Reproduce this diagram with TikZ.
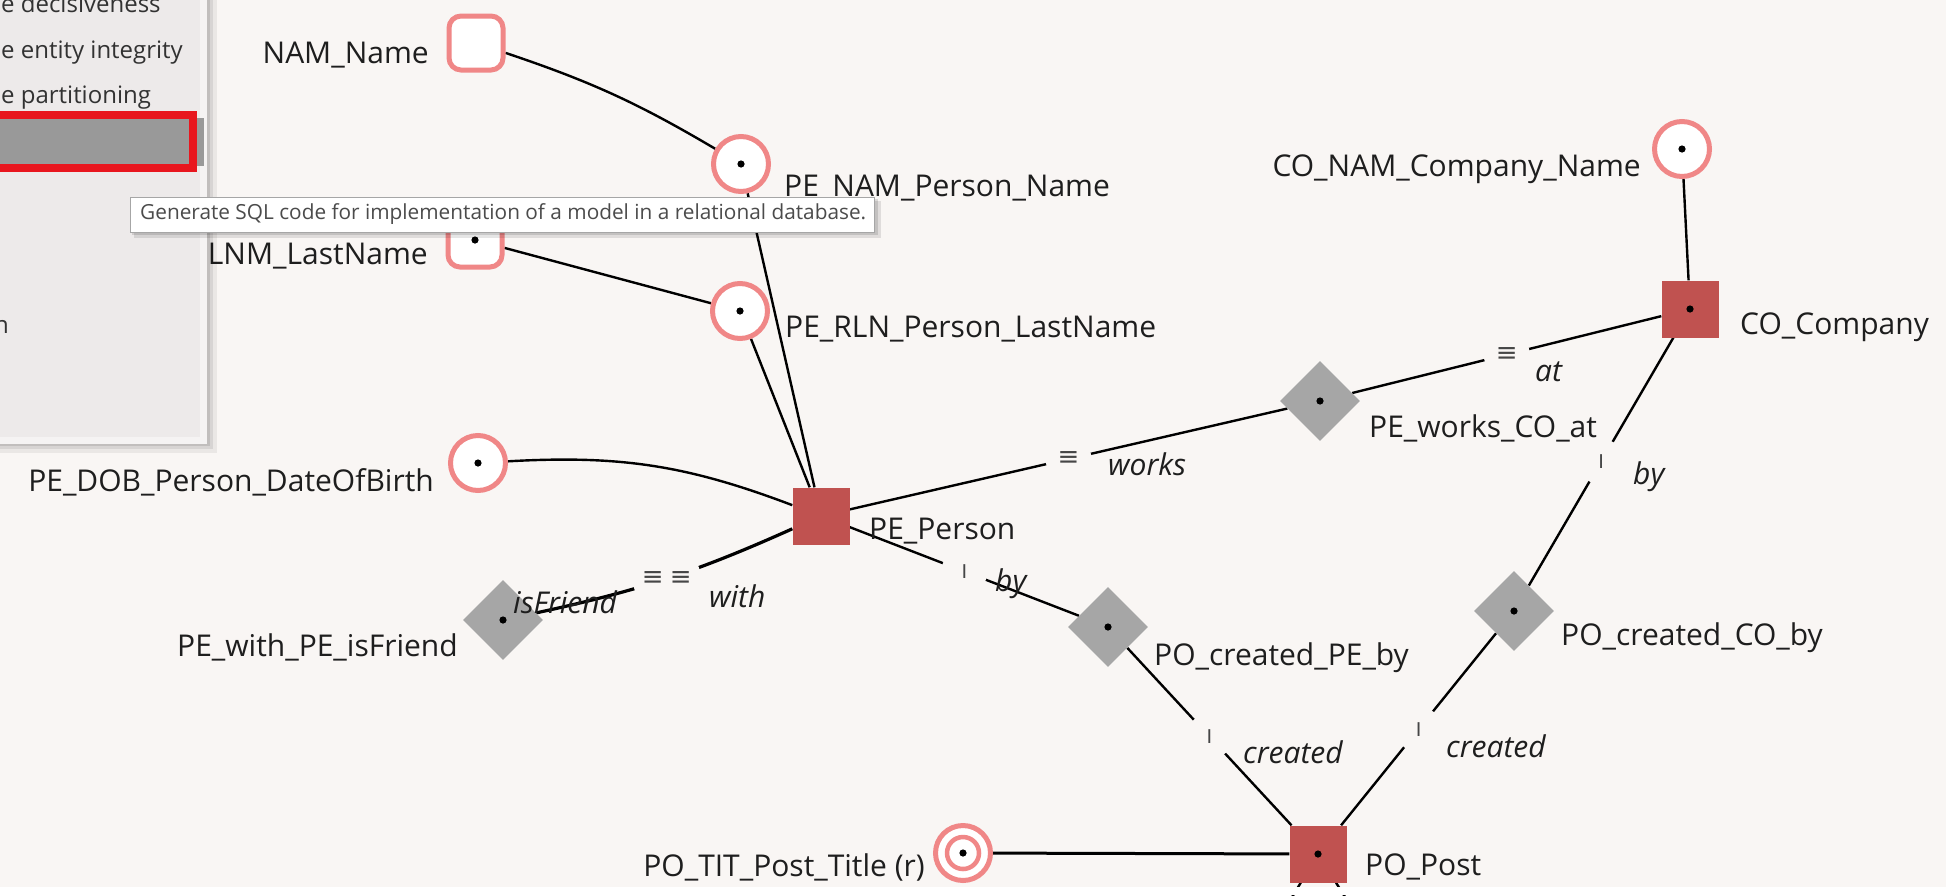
\documentclass[tikz,border=0pt]{standalone}
\usepackage{fontspec}
\setmainfont{Open Sans}
\newfontfamily\glyphfont{DejaVu Sans}
\usetikzlibrary{shapes.geometric,calc}

\definecolor{canvas}{RGB}{249,246,244}
\definecolor{entityred}{RGB}{192,82,80}
\definecolor{tiegray}{RGB}{166,166,166}
\definecolor{attrpink}{RGB}{240,135,135}
\definecolor{ink}{RGB}{30,30,30}
\definecolor{markgray}{RGB}{70,70,70}
\definecolor{panelgray}{RGB}{237,234,234}
\definecolor{panelrim}{RGB}{245,243,243}
\definecolor{menuink}{RGB}{50,50,50}
\definecolor{menured}{RGB}{232,22,30}
\definecolor{barfill}{RGB}{153,153,153}
\definecolor{tipink}{RGB}{75,75,75}

\pgfdeclarelayer{backdrop}
\pgfdeclarelayer{links}
\pgfdeclarelayer{overlay}
\pgfsetlayers{backdrop,links,main,overlay}

\tikzset{
  centerdot/.style={path picture={\fill[black] (path picture bounding box.center) circle (3.6pt);}},
  attr/.style={circle, draw=attrpink, line width=5pt, fill=white, minimum size=55pt, inner sep=0pt},
  knot/.style={rectangle, rounded corners=12pt, draw=attrpink, line width=5pt, fill=white, minimum size=54pt, inner sep=0pt},
  anchorbox/.style={rectangle, fill=entityred, minimum size=57pt, inner sep=0pt},
  tie/.style={diamond, aspect=1, fill=tiegray, minimum width=80pt, minimum height=80pt, inner sep=0pt},
  lbl/.style={font=\fontsize{30}{36}\selectfont, text=ink, inner sep=0pt},
  role/.style={font=\fontsize{30}{36}\selectfont\itshape, text=ink, inner sep=0pt, anchor=base west},
  link/.style={draw=black, line width=2.4pt},
  cardmark/.style={circle, fill=canvas, inner sep=0pt, minimum size=46pt, text=markgray, font=\glyphfont\fontsize{26}{28}\selectfont},
  onemark/.style={cardmark, font=\glyphfont\fontsize{19}{22}\selectfont},
  menu/.style={font=\fontsize{24}{28}\selectfont, text=menuink, inner sep=0pt, anchor=base west},
}

\begin{document}
\begin{tikzpicture}[x=1pt,y=-1pt]
\useasboundingbox (0,0) rectangle (1946,895);

% canvas
\begin{pgfonlayer}{backdrop}
  \fill[canvas] (0,0) rectangle (1946,895);
\end{pgfonlayer}

% knots, attributes, anchors and ties
\node[knot] (nam) at (476,43) {};
\node[knot, centerdot] (lnm) at (475,240) {};
\node[attr, centerdot] (penam) at (741,164) {};
\node[attr, centerdot] (perln) at (740,311) {};
\node[attr, centerdot] (pedob) at (478,463) {};
\node[attr, centerdot] (conam) at (1682,149) {};
\node[anchorbox, centerdot] (co) at (1690,309) {};
\node[anchorbox] (pe) at (821,516) {};
\node[tie, centerdot] (works) at (1320,401) {};
\node[tie, centerdot] (friend) at (503,620) {};
\node[tie, centerdot] (pocpe) at (1108,627) {};
\node[tie, centerdot] (pocco) at (1514,611) {};
\node[anchorbox, centerdot] (po) at (1318,854) {};
\node[attr, path picture={
    \draw[attrpink, line width=4.5pt] (path picture bounding box.center) circle (16pt);
    \fill[black] (path picture bounding box.center) circle (3.6pt);}] (potit) at (963,853) {};

% names
\node[lbl, anchor=base east] (namlbl) at (429,63) {NAM\_Name};
\node[lbl, anchor=base west] (penamlbl) at (784,196) {PE\_NAM\_Person\_Name};
\node[lbl, anchor=base east] (lnmlbl) at (428,264) {LNM\_LastName};
\node[lbl, anchor=base west] (perlnlbl) at (785,337) {PE\_RLN\_Person\_LastName};
\node[lbl, anchor=base east] (conamlbl) at (1641,176) {CO\_NAM\_Company\_Name};
\node[lbl, anchor=base west] (colbl) at (1740,334) {CO\_Company};
\node[lbl, anchor=base west] (pelbl) at (869,539) {PE\_Person};
\node[lbl, anchor=base east] (pedoblbl) at (434,491) {PE\_DOB\_Person\_DateOfBirth};
\node[lbl, anchor=base west] (workslbl) at (1369,437) {PE\_works\_CO\_at};
\node[lbl, anchor=base east] (friendlbl) at (458,656) {PE\_with\_PE\_isFriend};
\node[lbl, anchor=base west] (pocpelbl) at (1154,665) {PO\_created\_PE\_by};
\node[lbl, anchor=base west] (poccolbl) at (1561,645) {PO\_created\_CO\_by};
\node[lbl, anchor=base west] (polbl) at (1365,875) {PO\_Post};
\node[lbl, anchor=base east] (potitlbl) at (925,876) {PO\_TIT\_Post\_Title (r)};

% roles
\node[role] (rworks) at (1108,475) {works};
\node[role] (rat) at (1535,381) {at};
\node[role] (rbyco) at (1633,484) {by};
\node[role] (rcreatedco) at (1446,757) {created};
\node[role] (rcreatedpe) at (1243,763) {created};
\node[role] (rbype) at (995,591) {by};
\node[role] (rwith) at (709,607) {with};
\node[role] (risfriend) at (513,613) {isFriend};

% connectors
\coordinate (stubL) at (1230,1000);
\coordinate (stubR) at (1410,1000);
\begin{pgfonlayer}{links}
  \draw[link] (nam) to[bend left=6] (penam);
  \draw[link] (penam) -- (pe);
  \draw[link] (lnm) -- (perln);
  \draw[link] (perln) -- (pe);
  \draw[link] (pedob) to[bend left=12] (pe);
  \draw[link] (conam) -- (co);
  \draw[link] (pe) -- node[cardmark] (mworks) {≡} (works);
  \draw[link] (works) -- node[cardmark] (mat) {≡} (co);
  \draw[link] (co) -- node[onemark] (mbyco) {I} (pocco);
  \draw[link] (pocco) -- node[onemark] (mcreatedco) {I} (po);
  \draw[link] (pe) -- node[onemark] (mbype) {I} (pocpe);
  \draw[link] (pocpe) -- node[onemark] (mcreatedpe) {I} (po);
  \draw[link, line width=3.2pt] (pe) to[bend left=6]
    node[cardmark, minimum size=68pt] (mfriend) {≡\hspace{6pt}≡} (friend);
  \draw[link, line width=3pt] (potit) -- (po);
  \draw[link] (po) -- (stubL);
  \draw[link] (po) -- (stubR);
\end{pgfonlayer}

\begin{pgfonlayer}{overlay}
  % strip along the lower edge
  \fill[white] (0,887) rectangle (1946,895);
  % menu panel with its shadow
  \fill[black, opacity=.06] (0,-10) rectangle (217,453);
  \fill[black, opacity=.08] (0,-10) rectangle (213,449);
  \fill[black, opacity=.10] (0,-10) rectangle (210,446);
  \fill[panelrim] (0,-10) rectangle (207,444);
  \fill[panelgray] (0,-10) rectangle (200,437);
  \node[menu] (m1) at (1,12) {e decisiveness};
  \node[menu] (m2) at (1,58) {e entity integrity};
  \node[menu] (m3) at (1,103) {e partitioning};
  \fill[barfill] (0,118) rectangle (204,166);
  \draw[menured, line width=8pt] (-10,115) rectangle (193,168);
  \node[menu] (m4) at (-6,333) {n};
  % tooltip
  \fill[black, opacity=.10] (134,201) rectangle (881,238);
  \fill[black, opacity=.12] (132,199) rectangle (878,235);
  \fill[white] (130,197) rectangle (874,232);
  \draw[gray!70, line width=1pt] (130,197) rectangle (874,232);
  \node[anchor=west, inner sep=0pt, font=\fontsize{20.8}{24}\selectfont, text=tipink] (tiptext) at (140,214.5)
    {Generate SQL code for implementation of a model in a relational database.};
\end{pgfonlayer}
\end{tikzpicture}
\end{document}
